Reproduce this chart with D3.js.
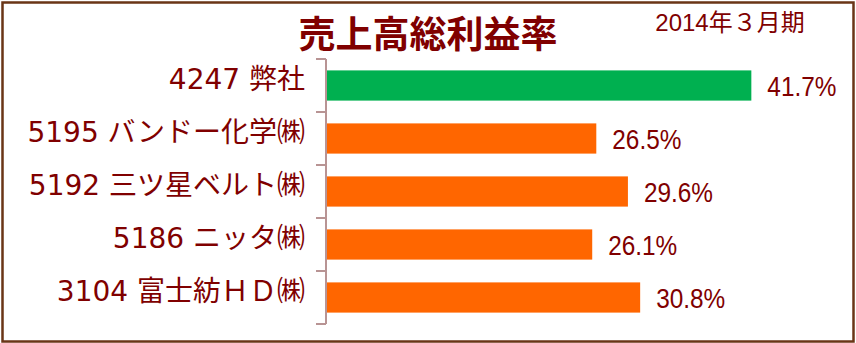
<!DOCTYPE html>
<html>
<head>
<meta charset="utf-8">
<script src="https://d3js.org/d3.v7.min.js"></script>
<style>
  html, body { margin: 0; padding: 0; background: #fff; }
  svg { display: block; }
</style>
</head>
<body>
<script>
// Chart data
const categories = ['4247 弊社', '5195 バンドー化学㈱', '5192 三ツ星ベルト㈱', '5186 ニッタ㈱', '3104 富士紡ＨＤ㈱'];
const values = [41.7, 26.5, 29.6, 26.1, 30.8];
const barColors = ['#00b050', '#ff6600', '#ff6600', '#ff6600', '#ff6600'];
const title = '売上高総利益率';
const period = '2014年３月期';

const width = 856;
const height = 343;
const textColor = '#800000';
const jpFont = '"Noto Sans CJK JP", "Noto Sans", sans-serif';

const svg = d3.select('body').append('svg')
  .attr('width', width)
  .attr('height', height);

// outer frame
svg.append('rect')
  .attr('x', 2.5)
  .attr('y', 2.5)
  .attr('width', width - 5)
  .attr('height', height - 4)
  .attr('fill', '#fff')
  .attr('stroke', '#6a3516')
  .attr('stroke-width', 2.5);

const x = d3.scaleLinear().domain([0, 50]).range([326, 836]);
const y = d3.scaleBand().domain(categories).range([59, 324]).paddingInner(0.43).paddingOuter(0.215);

// bars
svg.append('g').selectAll('rect')
  .data(values)
  .enter().append('rect')
  .attr('x', x(0))
  .attr('y', (d, i) => y(categories[i]))
  .attr('width', d => x(d) - x(0))
  .attr('height', y.bandwidth())
  .attr('fill', (d, i) => barColors[i]);

// y axis
const axis = d3.axisLeft(y).tickSize(0).tickFormat('');
const gAxis = svg.append('g')
  .attr('transform', `translate(${x(0)},0)`)
  .call(axis);
gAxis.select('.domain').attr('stroke', '#b89494').attr('stroke-width', 2)
  .attr('d', 'M0,59V324');

// band boundary ticks
const bounds = d3.range(categories.length + 1).map(i => 59 + (324 - 59) / categories.length * i);
svg.append('g').selectAll('line')
  .data(bounds)
  .enter().append('line')
  .attr('x1', x(0) - 10)
  .attr('x2', x(0))
  .attr('y1', d => d)
  .attr('y2', d => d)
  .attr('stroke', '#b89494')
  .attr('stroke-width', 2);

// category labels
svg.append('g').selectAll('text')
  .data(categories)
  .enter().append('text')
  .attr('x', 305)
  .attr('y', d => y(d) + y.bandwidth() / 2 - 6)
  .attr('dy', '0.35em')
  .attr('text-anchor', 'end')
  .style('font-family', '"DejaVu Sans", ' + jpFont)
  .style('font-size', '28px')
  .style('fill', textColor)
  .text(d => d);

// value labels
svg.append('g').selectAll('text')
  .data(values)
  .enter().append('text')
  .attr('transform', (d, i) => `translate(${x(d) + 16},${y(categories[i]) + y.bandwidth() / 2}) scale(0.87,1)`)
  .attr('dy', '0.36em')
  .style('font-family', '"Liberation Sans", Arial, sans-serif')
  .style('font-size', '28px')
  .style('fill', textColor)
  .text(d => d.toFixed(1) + '%');

// title
svg.append('text')
  .attr('x', 428)
  .attr('y', 48)
  .attr('text-anchor', 'middle')
  .style('font-family', jpFont)
  .style('font-size', '37px')
  .style('font-weight', 'bold')
  .style('fill', textColor)
  .text(title);

svg.append('text')
  .attr('x', 730)
  .attr('y', 31)
  .attr('text-anchor', 'middle')
  .style('font-family', '"Liberation Sans", ' + jpFont)
  .style('font-size', '24px')
  .style('fill', textColor)
  .text(period);
</script>
</body>
</html>
